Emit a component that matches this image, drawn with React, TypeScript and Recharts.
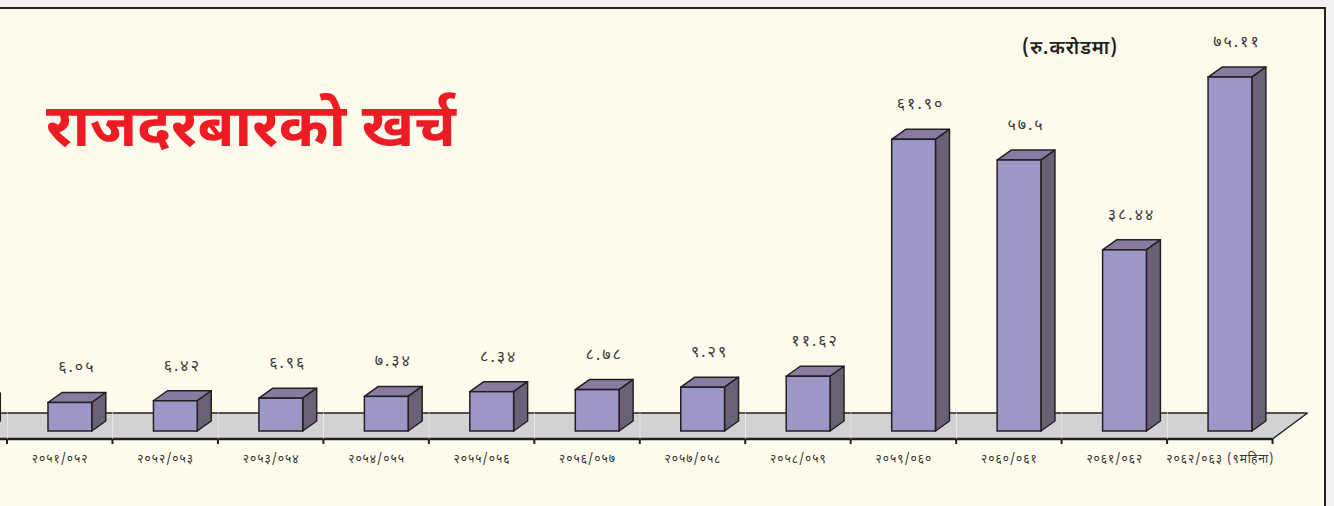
import { BarChart, Bar, XAxis, YAxis, LabelList } from "recharts";

// fiscal years (the first one is cut off at the left edge of the picture)
const years = [
  "२०५०/०५१",
  "२०५१/०५२",
  "२०५२/०५३",
  "२०५३/०५४",
  "२०५४/०५५",
  "२०५५/०५६",
  "२०५६/०५७",
  "२०५७/०५८",
  "२०५८/०५९",
  "२०५९/०६०",
  "२०६०/०६१",
  "२०६१/०६२",
  "२०६२/०६३ (९महिना)",
];

// rupees, crore
const spending = [5.9, 6.05, 6.42, 6.96, 7.34, 8.34, 8.78, 9.29, 11.62, 61.9, 57.5, 38.44, 75.11];

const spendingText = ["५.९०", "६.०५", "६.४२", "६.९६", "७.३४", "८.३४", "८.७८", "९.२९", "११.६२", "६१.९०", "५७.५", "३८.४४", "७५.११"];

const data = years.map((year, i) => ({ year, amount: spending[i], text: spendingText[i] }));

const DEVA = '"Noto Sans Devanagari", "Lohit Devanagari", "Noto Sans", sans-serif';
const INK = "#231f20";
const SHIFT = -98; // chart is slid left so the first year sits behind the frame edge

function Cube(props: any) {
  const { x, y, width, height, index } = props;
  const base = y + height;
  const fx = x + width * 0.386;
  const fw = width * 0.417;
  const dx = 14;
  const dy = 10;
  const right = x + width;
  const last = index === spending.length - 1;
  const back = base - 18;
  const front = base + 8;
  const floor = last
    ? `${x},${back} ${right + 35},${back} ${right},${front} ${x},${front}`
    : `${x},${back} ${right},${back} ${right},${front} ${x},${front}`;
  return (
    <g>
      <polygon points={floor} fill="#d1d2d4" />
      <line x1={x} x2={last ? right + 35 : right} y1={back} y2={back} stroke={INK} strokeWidth={1.5} />
      <line x1={x} x2={right} y1={front} y2={front} stroke={INK} strokeWidth={2.5} />
      {last && <line x1={right} y1={front} x2={right + 35} y2={back} stroke={INK} strokeWidth={1.5} />}
      <line x1={right} x2={right} y1={front} y2={front + 5} stroke={INK} strokeWidth={2} />
      <polygon
        points={`${fx},${y} ${fx + dx},${y - dy} ${fx + fw + dx},${y - dy} ${fx + fw},${y}`}
        fill="#857c9f"
        stroke={INK}
        strokeWidth={1.5}
        strokeLinejoin="round"
      />
      <polygon
        points={`${fx + fw},${y} ${fx + fw + dx},${y - dy} ${fx + fw + dx},${base - dy} ${fx + fw},${base}`}
        fill="#6b6176"
        stroke={INK}
        strokeWidth={1.5}
        strokeLinejoin="round"
      />
      <rect x={fx} y={y} width={fw} height={height} fill="#9d97c8" stroke={INK} strokeWidth={1.5} />
    </g>
  );
}

function ValueLabel(props: any) {
  const { x, y, width, value } = props;
  const cx = x + width * 0.386 + (width * 0.417) / 2 + 7;
  if (cx + SHIFT < 0) return null;
  return (
    <text
      x={cx}
      y={y - 30}
      textAnchor="middle"
      fontSize={16}
      letterSpacing={2}
      fontFamily={DEVA}
      fill="#3a3a3a"
    >
      {value}
    </text>
  );
}

function YearTick(props: any) {
  const { x, y, payload } = props;
  if (x + SHIFT < 0) return null;
  return (
    <text
      x={x}
      y={y + 24}
      textAnchor="middle"
      fontSize={12}
      letterSpacing={1}
      fontFamily={DEVA}
      fill="#333"
    >
      {payload.value}
    </text>
  );
}

export default function App() {
  return (
    <div
      style={{
        position: "absolute",
        left: 0,
        top: 0,
        width: 1334,
        height: 506,
        overflow: "hidden",
        background: "#f3f1f1",
      }}
    >
      <div
        style={{
          position: "absolute",
          left: 0,
          top: 7,
          width: 1324,
          height: 499,
          background: "#fefbec",
          borderTop: `2px solid ${INK}`,
          borderRight: `2px solid ${INK}`,
        }}
      />
      <div
        style={{
          position: "absolute",
          left: 46,
          top: 95,
          fontFamily: DEVA,
          fontWeight: 700,
          fontSize: 60,
          lineHeight: "72px",
          color: "#ed1c24",
          whiteSpace: "nowrap",
        }}
      >
        राजदरबारको खर्च
      </div>
      <div
        style={{
          position: "absolute",
          left: 1022,
          top: 37,
          fontFamily: DEVA,
          fontWeight: 600,
          fontSize: 19,
          letterSpacing: 1,
          color: INK,
          whiteSpace: "nowrap",
        }}
      >
        (रु.करोडमा)
      </div>
      <div style={{ position: "absolute", left: SHIFT, top: 0 }}>
        <BarChart
          width={1471}
          height={506}
          data={data}
          margin={{ top: 54, right: 100, left: 0, bottom: 45 }}
          barCategoryGap={0}
        >
          <XAxis
            dataKey="year"
            height={30}
            axisLine={false}
            tickLine={false}
            interval={0}
            tick={<YearTick />}
          />
          <YAxis hide domain={[0, 80]} />
          <Bar dataKey="amount" shape={<Cube />} isAnimationActive={false}>
            <LabelList dataKey="text" content={<ValueLabel />} />
          </Bar>
        </BarChart>
      </div>
    </div>
  );
}
